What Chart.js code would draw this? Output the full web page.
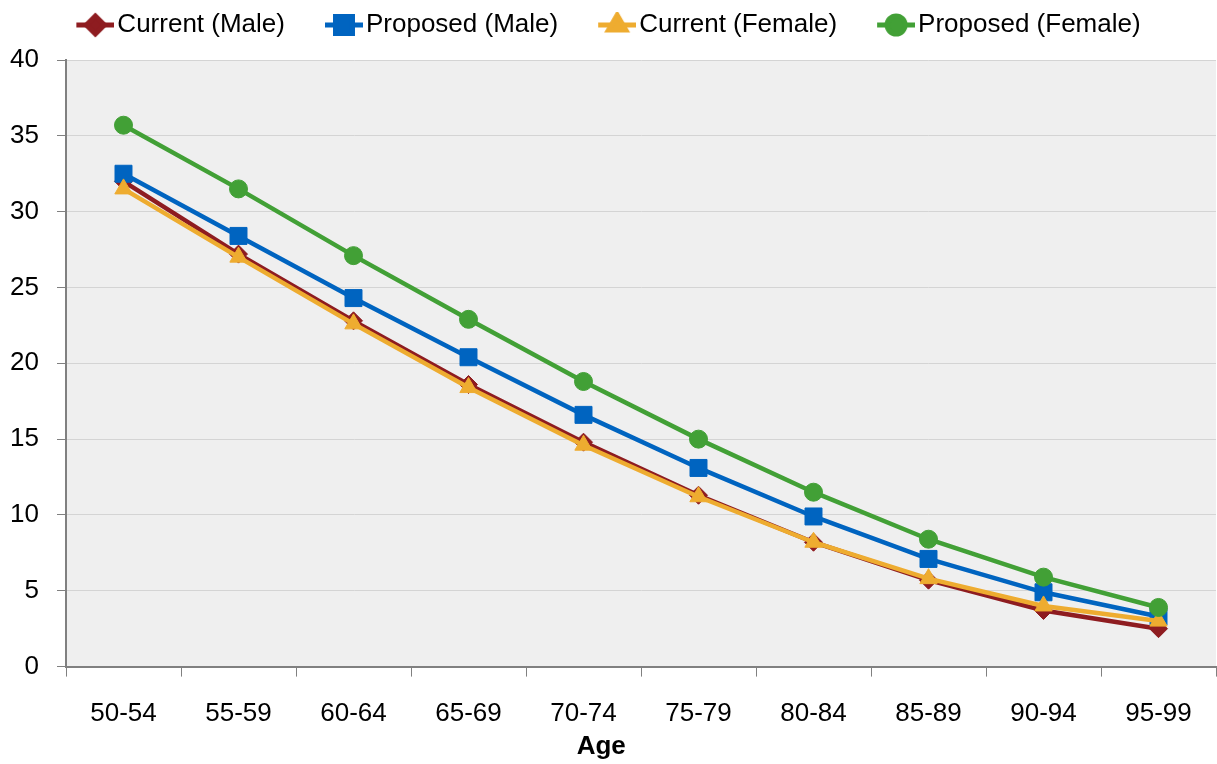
<!DOCTYPE html>
<html lang="en">
<head>
<meta charset="UTF-8">
<title>Life Expectancy by Age</title>
<style>
    html, body { margin: 0; padding: 0; background: #fff; overflow: hidden; }
    .chart-container { width: 1217px; height: 764px; }
</style>
</head>
<body>
<div class="chart-container"><canvas id="chart"></canvas></div>
<script src="https://cdn.jsdelivr.net/npm/chart.js"></script>
<script>
const ageGroups = ['50-54', '55-59', '60-64', '65-69', '70-74', '75-79', '80-84', '85-89', '90-94', '95-99'];
const currentMale = [32.0, 27.2, 22.8, 18.6, 14.8, 11.3, 8.2, 5.7, 3.7, 2.5];
const proposedMale = [32.5, 28.4, 24.3, 20.4, 16.6, 13.1, 9.9, 7.1, 4.9, 3.3];
const currentFemale = [31.5, 27.0, 22.6, 18.4, 14.6, 11.2, 8.2, 5.8, 4.0, 3.0];
const proposedFemale = [35.7, 31.5, 27.1, 22.9, 18.8, 15.0, 11.5, 8.4, 5.9, 3.9];
const yTicks = [0, 5, 10, 15, 20, 25, 30, 35, 40];

Chart.defaults.font.family = "'Liberation Sans', Arial, sans-serif";
Chart.defaults.color = '#000';

const series = [
    { label: 'Current (Male)', data: currentMale, color: '#8e1c20', style: 'rectRot', radius: 9, order: 4 },
    { label: 'Proposed (Male)', data: proposedMale, color: '#0064c0', style: 'rect', radius: 12, order: 3 },
    { label: 'Current (Female)', data: currentFemale, color: '#eeac30', style: 'triangle', radius: 10, order: 2 },
    { label: 'Proposed (Female)', data: proposedFemale, color: '#42a036', style: 'circle', radius: 9, order: 1 }
];

// legend icon: short line with the marker in the middle.
// box is 28 wide; the icon (centered on the box) spills right up to the text
const BOX_W = 28;
function legendIcon(s) {
    const c = document.createElement('canvas');
    c.width = 48;
    c.height = 26;
    const ctx = c.getContext('2d');
    ctx.strokeStyle = s.color;
    ctx.lineWidth = 5;
    ctx.beginPath();
    ctx.moveTo(10, 13);
    ctx.lineTo(48, 13);
    ctx.stroke();
    ctx.fillStyle = s.color;
    Chart.helpers.drawPoint(ctx, { pointStyle: s.style, radius: s.radius, borderWidth: 1, rotation: 0 }, 29, 13);
    return c;
}

const plotBackground = {
    id: 'plotBackground',
    beforeDraw(chart) {
        const { ctx, chartArea } = chart;
        ctx.save();
        ctx.fillStyle = '#efefef';
        ctx.fillRect(chartArea.left, chartArea.top, chartArea.right - chartArea.left, chartArea.bottom - chartArea.top);
        ctx.restore();
    }
};

// a bit of room between legend and plot
const legendGap = {
    id: 'legendGap',
    beforeInit(chart) {
        const fit = chart.legend.fit;
        chart.legend.fit = function () {
            fit.call(this);
            this.height += 12;
        };
    }
};

new Chart(document.getElementById('chart').getContext('2d'), {
    type: 'line',
    data: {
        labels: ageGroups,
        datasets: series.map(s => ({
            label: s.label,
            data: s.data,
            borderColor: s.color,
            backgroundColor: s.color,
            borderWidth: 4.5,
            pointStyle: s.style,
            pointRadius: s.radius,
            pointBorderWidth: 1,
            order: s.order,
            tension: 0
        }))
    },
    options: {
        responsive: true,
        maintainAspectRatio: false,
        animation: false,
        layout: { autoPadding: false, padding: { left: 1, right: 1, top: -28, bottom: 2 } },
        plugins: {
            tooltip: { enabled: false },
            legend: {
                position: 'top',
                labels: {
                    usePointStyle: true,
                    pointStyleWidth: BOX_W,
                    boxHeight: 26,
                    padding: 40,
                    font: { size: 26 },
                    color: '#000',
                    generateLabels: chart => series.map((s, i) => ({
                        text: s.label,
                        pointStyle: legendIcon(s),
                        fillStyle: s.color,
                        strokeStyle: s.color,
                        lineWidth: 0,
                        hidden: false,
                        datasetIndex: i
                    }))
                }
            }
        },
        scales: {
            x: {
                offset: true,
                grid: {
                    offset: true,
                    drawOnChartArea: false,
                    color: '#808080',
                    tickLength: 10
                },
                border: { color: '#808080', width: 2 },
                ticks: { font: { size: 26 }, color: '#000', padding: 22, maxRotation: 0 },
                title: {
                    display: true,
                    // trailing spaces nudge the title left of the plot centre, as in the original
                    text: 'Age           ',
                    font: { size: 26, weight: 'bold' },
                    color: '#000',
                    padding: { top: -21, bottom: 0 }
                }
            },
            y: {
                min: 0,
                max: 40,
                afterBuildTicks: axis => { axis.ticks = yTicks.map(v => ({ value: v })); },
                afterFit: axis => { axis.width = 65; },
                grid: {
                    color: '#d4d4d4',
                    tickColor: '#808080',
                    tickLength: 9
                },
                border: { color: '#808080', width: 2 },
                ticks: { font: { size: 26 }, color: '#000', padding: 18 }
            }
        }
    },
    plugins: [plotBackground, legendGap]
});
</script>
</body>
</html>
